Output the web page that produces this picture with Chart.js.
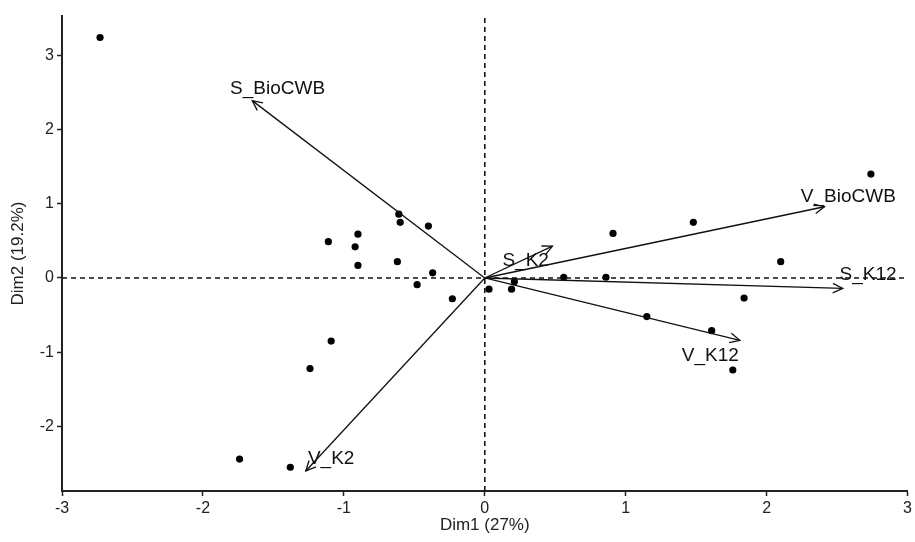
<!DOCTYPE html>
<html>
<head>
<meta charset="utf-8">
<script src="https://cdn.jsdelivr.net/npm/chart.js@4.4.1/dist/chart.umd.min.js"></script>
<style>
  html, body { margin: 0; padding: 0; background: #fff; }
  #wrap { width: 915px; height: 542px; }
</style>
</head>
<body>
<div id="wrap"><canvas id="pca"></canvas></div>
<script>
// --- individuals (Dim1, Dim2) ---
const pointX = [-2.73, -0.61, -0.60, -0.40, -0.90, -1.11, -0.92, -0.90, -0.62, -0.37, -0.48, 0.03, -0.23,
                2.74, 1.48, 0.91, 2.10, 0.56, 0.86, 0.19, 0.21, 1.84, 1.15, 1.61, 1.76,
                -1.09, -1.24, -1.74, -1.38];
const pointY = [3.24, 0.86, 0.75, 0.70, 0.59, 0.49, 0.42, 0.17, 0.22, 0.07, -0.09, -0.15, -0.28,
                1.40, 0.75, 0.60, 0.22, 0.01, 0.01, -0.15, -0.05, -0.27, -0.52, -0.71, -1.24,
                -0.85, -1.22, -2.44, -2.55];

// --- variables (arrows from origin) ---
const arrowNames = ['S_BioCWB', 'V_BioCWB', 'S_K12', 'V_K12', 'S_K2', 'V_K2'];
const arrowX = [-1.65, 2.41, 2.54, 1.81, 0.48, -1.27];
const arrowY = [2.39, 0.96, -0.14, -0.84, 0.43, -2.60];
const labelX = [-1.47, 2.58, 2.72, 1.60, 0.29, -1.09];
const labelY = [2.55, 1.09, 0.04, -1.05, 0.23, -2.44];

// --- axes ---
const xTicks = [-3, -2, -1, 0, 1, 2, 3];
const yTicks = [-2, -1, 0, 1, 2, 3];
const xRange = [-3, 3];
const yRange = [-2.87, 3.53];

const INK = '#111';
const TICK_FONT = { family: '"Liberation Sans", Arial, sans-serif', size: 16 };
const TITLE_FONT = { family: '"Liberation Sans", Arial, sans-serif', size: 17 };

const datasets = [];

// dashed reference lines through the origin
datasets.push({
  data: [{ x: xRange[0], y: 0 }, { x: xRange[1], y: 0 }],
  showLine: true, borderColor: INK, borderWidth: 1.6, borderDash: [5, 4], pointRadius: 0
});
datasets.push({
  data: [{ x: 0, y: yRange[0] }, { x: 0, y: yRange[1] }],
  showLine: true, borderColor: INK, borderWidth: 1.6, borderDash: [5, 4], pointRadius: 0
});

// arrow shafts
arrowNames.forEach((name, i) => {
  datasets.push({
    label: name,
    data: [{ x: 0, y: 0 }, { x: arrowX[i], y: arrowY[i] }],
    showLine: true, borderColor: INK, borderWidth: 1.3, pointRadius: 0
  });
});

// individuals
datasets.push({
  data: pointX.map((x, i) => ({ x, y: pointY[i] })),
  backgroundColor: '#000', borderColor: '#000', pointRadius: 3.6, pointBorderWidth: 0
});

// --- arrowheads + variable labels ---
const arrowPlugin = {
  id: 'arrowPlugin',
  afterDatasetsDraw(chart) {
    const { ctx, scales: { x, y } } = chart;
    ctx.save();
    ctx.strokeStyle = INK;
    ctx.lineWidth = 1.3;
    const x0 = x.getPixelForValue(0), y0 = y.getPixelForValue(0);
    arrowNames.forEach((name, i) => {
      const x1 = x.getPixelForValue(arrowX[i]);
      const y1 = y.getPixelForValue(arrowY[i]);
      const a = Math.atan2(y1 - y0, x1 - x0);
      const len = 11, spread = Math.PI / 7;
      ctx.beginPath();
      ctx.moveTo(x1 - len * Math.cos(a - spread), y1 - len * Math.sin(a - spread));
      ctx.lineTo(x1, y1);
      ctx.lineTo(x1 - len * Math.cos(a + spread), y1 - len * Math.sin(a + spread));
      ctx.stroke();
    });
    ctx.fillStyle = '#111';
    ctx.font = '19px "Liberation Sans", Arial, sans-serif';
    ctx.textAlign = 'center';
    ctx.textBaseline = 'middle';
    arrowNames.forEach((name, i) => {
      ctx.fillText(name, x.getPixelForValue(labelX[i]), y.getPixelForValue(labelY[i]));
    });
    ctx.restore();
  }
};

new Chart(document.getElementById('pca'), {
  type: 'scatter',
  data: { datasets },
  plugins: [arrowPlugin],
  options: {
    responsive: true,
    maintainAspectRatio: false,
    animation: false,
    layout: { padding: { top: 16, right: 7, left: 0, bottom: 0 } },
    plugins: { legend: { display: false }, tooltip: { enabled: false } },
    scales: {
      x: {
        type: 'linear',
        min: xRange[0], max: xRange[1],
        afterBuildTicks: s => { s.ticks = xTicks.map(v => ({ value: v })); },
        afterFit: s => { s.height = 51; },
        border: { display: true, color: '#222', width: 2 },
        grid: { drawOnChartArea: false, drawTicks: true, tickLength: 5, tickColor: '#222', tickWidth: 1.5 },
        ticks: { color: '#222', font: TICK_FONT, padding: 3, maxRotation: 0 },
        title: { display: true, text: 'Dim1 (27%)', color: '#222', font: TITLE_FONT, padding: { top: 0, bottom: 6 } }
      },
      y: {
        type: 'linear',
        min: yRange[0], max: yRange[1],
        afterBuildTicks: s => { s.ticks = yTicks.map(v => ({ value: v })); },
        afterFit: s => { s.width = 62; },
        border: { display: true, color: '#222', width: 2 },
        grid: { drawOnChartArea: false, drawTicks: true, tickLength: 5, tickColor: '#222', tickWidth: 1.5 },
        ticks: { color: '#222', font: TICK_FONT, padding: 3 },
        title: { display: true, text: 'Dim2 (19.2%)', color: '#222', font: TITLE_FONT, padding: { top: 8, bottom: 0 } }
      }
    }
  }
});
</script>
</body>
</html>
